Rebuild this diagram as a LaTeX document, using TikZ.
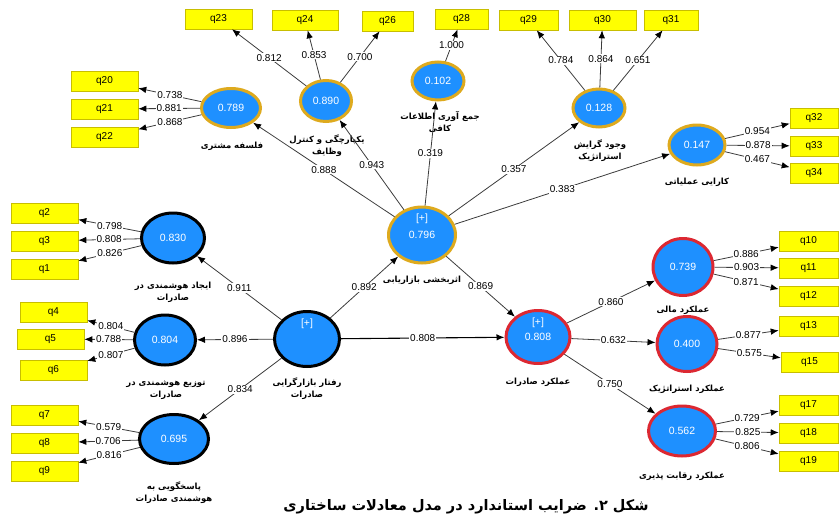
\documentclass[tikz,border=0pt]{standalone}
\usepackage{fontspec}
\setmainfont{Liberation Sans}
\newfontfamily\arabicfont[Script=Arabic]{DejaVu Sans}
\TeXXeTstate=1
\usetikzlibrary{shapes.geometric,arrows.meta}
\definecolor{lvblue}{RGB}{30,144,255}
\definecolor{lvgold}{RGB}{222,170,30}
\definecolor{lvred}{RGB}{220,40,50}
\definecolor{indyellow}{RGB}{255,255,0}
\definecolor{indborder}{RGB}{200,190,0}
\definecolor{linegray}{RGB}{60,60,60}
\begin{document}
\begin{tikzpicture}[x=1pt,y=-1pt,
  lv/.style={ellipse, fill=lvblue, line width=3pt, inner sep=0pt, text=white, font=\fontsize{10.5}{12}\selectfont},
  lvg/.style={lv, draw=lvgold},
  lvr/.style={lv, draw=lvred},
  lvk/.style={lv, draw=black},
  plus/.style={label={[anchor=north, text=white, font=\fontsize{10.5}{12}\selectfont, yshift=-5pt]north:{[+]}}},
  ind/.style={rectangle, fill=indyellow, draw=indborder, line width=0.6pt, minimum height=20pt, inner sep=0pt, font=\fontsize{10}{12}\selectfont},
  wt/.style={fill=white, inner sep=1pt, font=\fontsize{10}{12}\selectfont},
  con/.style={draw=linegray, line width=0.8pt, -{Latex[length=8pt,width=6.5pt,color=black]}},
  plab/.style={font=\arabicfont\bfseries\fontsize{8.5}{12}\selectfont, align=center, inner sep=0pt},
  captxt/.style={font=\arabicfont\bfseries\fontsize{14.5}{17}\selectfont, inner sep=0pt}
]
\useasboundingbox (0,0) rectangle (840,522);

% latent variables
\node[lvg, minimum width=59pt, minimum height=39pt] (A789) at (231,108) {0.789};
\node[lvg, minimum width=51pt, minimum height=41pt] (A890) at (326,101) {0.890};
\node[lvg, minimum width=52pt, minimum height=38pt] (A102) at (438,81) {0.102};
\node[lvg, minimum width=52pt, minimum height=38pt] (A128) at (599,108) {0.128};
\node[lvg, minimum width=56pt, minimum height=40pt] (A147) at (697,145) {0.147};
\node[lvg, plus, minimum width=67pt, minimum height=56pt] (A796) at (422,235) {0.796};
\node[lvk, minimum width=63pt, minimum height=50pt] (A830) at (173,238) {0.830};
\node[lvk, minimum width=61pt, minimum height=50pt] (A804) at (165,340) {0.804};
\node[lvk, minimum width=69pt, minimum height=49pt] (A695) at (174,439) {0.695};
\node[lvk, plus, minimum width=65pt, minimum height=55pt] (AR) at (307,339) {};
\node[lvr, plus, minimum width=64pt, minimum height=53pt] (A808) at (538,337) {0.808};
\node[lvr, minimum width=60pt, minimum height=57pt] (A739) at (683,267) {0.739};
\node[lvr, minimum width=60pt, minimum height=55pt] (A400) at (687,344) {0.400};
\node[lvr, minimum width=67pt, minimum height=50pt] (A562) at (682,431) {0.562};

% indicators
\node[ind, minimum width=67pt] (q23) at (218.5,19) {q23};
\node[ind, minimum width=66pt] (q24) at (305,20) {q24};
\node[ind, minimum width=51pt] (q26) at (387.5,21) {q26};
\node[ind, minimum width=53pt] (q28) at (461.5,19) {q28};
\node[ind, minimum width=59pt] (q29) at (528.5,20) {q29};
\node[ind, minimum width=67pt] (q30) at (602.5,20) {q30};
\node[ind, minimum width=54pt] (q31) at (671,20) {q31};
\node[ind, minimum width=48pt] (q32) at (814,118) {q32};
\node[ind, minimum width=48pt] (q33) at (814,146) {q33};
\node[ind, minimum width=48pt] (q34) at (814,173) {q34};
\node[ind, minimum width=67pt] (q20) at (104.5,81) {q20};
\node[ind, minimum width=67pt] (q21) at (104.5,109) {q21};
\node[ind, minimum width=67pt] (q22) at (104.5,137) {q22};
\node[ind, minimum width=67pt] (q2) at (44.5,213) {q2};
\node[ind, minimum width=67pt] (q3) at (44.5,241) {q3};
\node[ind, minimum width=67pt] (q1) at (44.5,269) {q1};
\node[ind, minimum width=67pt] (q4) at (53.5,312) {q4};
\node[ind, minimum width=67pt] (q5) at (50.5,339) {q5};
\node[ind, minimum width=67pt] (q6) at (53.5,370) {q6};
\node[ind, minimum width=67pt] (q7) at (44.5,415) {q7};
\node[ind, minimum width=67pt] (q8) at (44.5,443) {q8};
\node[ind, minimum width=67pt] (q9) at (44.5,471) {q9};
\node[ind, minimum width=59pt] (q10) at (808.5,241) {q10};
\node[ind, minimum width=59pt] (q11) at (808.5,268) {q11};
\node[ind, minimum width=59pt] (q12) at (808.5,296) {q12};
\node[ind, minimum width=59pt] (q13) at (808.5,326) {q13};
\node[ind, minimum width=57pt] (q15) at (809.5,362) {q15};
\node[ind, minimum width=59pt] (q17) at (808.5,405) {q17};
\node[ind, minimum width=59pt] (q18) at (808.5,433) {q18};
\node[ind, minimum width=59pt] (q19) at (808.5,461) {q19};

% construct labels
\node[plab] (L789) at (232,146) {\beginR فلسفه مشتری\endR};
\node[plab] (L890) at (327,146) {\beginR یکپارچگی و کنترل\endR\\\beginR وظایف\endR};
\node[plab] (L102) at (440,122) {\beginR جمع آوری اطلاعات\endR\\\beginR کافی\endR};
\node[plab] (L128) at (600,151) {\beginR وجود گرایش\endR\\\beginR استراتژیک\endR};
\node[plab] (L147) at (697,182) {\beginR کارایی عملیاتی\endR};
\node[plab] (L796) at (422,280) {\beginR اثربخشی بازاریابی\endR};
\node[plab] (L830) at (173,292) {\beginR ایجاد هوشمندی در\endR\\\beginR صادرات\endR};
\node[plab] (L804) at (166,390) {\beginR توزیع هوشمندی در\endR\\\beginR صادرات\endR};
\node[plab] (LR) at (307,389) {\beginR رفتار بازارگرایی\endR\\\beginR صادرات\endR};
\node[plab] (L695) at (174,493) {\beginR پاسخگویی به\endR\\\beginR هوشمندی صادرات\endR};
\node[plab] (L808) at (538,382) {\beginR عملکرد صادرات\endR};
\node[plab] (L739) at (683,310) {\beginR عملکرد مالی\endR};
\node[plab] (L400) at (687,389) {\beginR عملکرد استراتژیک\endR};
\node[plab] (L562) at (682,476) {\beginR عملکرد رقابت پذیری\endR};

% structural paths
\draw[con] (AR) -- node[wt] {0.892} (A796);
\draw[con] (AR) -- node[wt] {0.911} (A830);
\draw[con] (AR) -- node[wt] {0.896} (A804);
\draw[con] (AR) -- node[wt] {0.834} (A695);
\draw[con, line width=1.1pt, draw=black] (AR) -- node[wt] {0.808} (A808);
\draw[con] (A796) -- node[wt] {0.888} (A789);
\draw[con] (A796) -- node[wt] {0.943} (A890);
\draw[con] (A796) -- node[wt] {0.319} (A102);
\draw[con] (A796) -- node[wt] {0.357} (A128);
\draw[con] (A796) -- node[wt] {0.383} (A147);
\draw[con] (A796) -- node[wt] {0.869} (A808);
\draw[con] (A808) -- node[wt] {0.860} (A739);
\draw[con] (A808) -- node[wt] {0.632} (A400);
\draw[con] (A808) -- node[wt] {0.750} (A562);

% measurement paths
\draw[con] (A789) -- node[wt] {0.738} (q20);
\draw[con] (A789) -- node[wt] {0.881} (q21);
\draw[con] (A789) -- node[wt] {0.868} (q22);
\draw[con] (A890) -- node[wt] {0.812} (q23);
\draw[con] (A890) -- node[wt] {0.853} (q24);
\draw[con] (A890) -- node[wt] {0.700} (q26);
\draw[con] (A102) -- node[wt] {1.000} (q28);
\draw[con] (A128) -- node[wt] {0.784} (q29);
\draw[con] (A128) -- node[wt] {0.864} (q30);
\draw[con] (A128) -- node[wt] {0.651} (q31);
\draw[con] (A147) -- node[wt] {0.954} (q32);
\draw[con] (A147) -- node[wt] {0.878} (q33);
\draw[con] (A147) -- node[wt] {0.467} (q34);
\draw[con] (A830) -- node[wt] {0.798} (q2);
\draw[con] (A830) -- node[wt] {0.808} (q3);
\draw[con] (A830) -- node[wt] {0.826} (q1);
\draw[con] (A804) -- node[wt] {0.804} (q4);
\draw[con] (A804) -- node[wt] {0.788} (q5);
\draw[con] (A804) -- node[wt] {0.807} (q6);
\draw[con] (A695) -- node[wt] {0.579} (q7);
\draw[con] (A695) -- node[wt] {0.706} (q8);
\draw[con] (A695) -- node[wt] {0.816} (q9);
\draw[con] (A739) -- node[wt] {0.886} (q10);
\draw[con] (A739) -- node[wt] {0.903} (q11);
\draw[con] (A739) -- node[wt] {0.871} (q12);
\draw[con] (A400) -- node[wt] {0.877} (q13);
\draw[con] (A400) -- node[wt] {0.575} (q15);
\draw[con] (A562) -- node[wt] {0.729} (q17);
\draw[con] (A562) -- node[wt] {0.825} (q18);
\draw[con] (A562) -- node[wt] {0.806} (q19);

% caption
\node[captxt] (caption) at (466,507) {\beginR شکل ۲. ضرایب استاندارد در مدل معادلات ساختاری\endR};
\end{tikzpicture}
\end{document}
